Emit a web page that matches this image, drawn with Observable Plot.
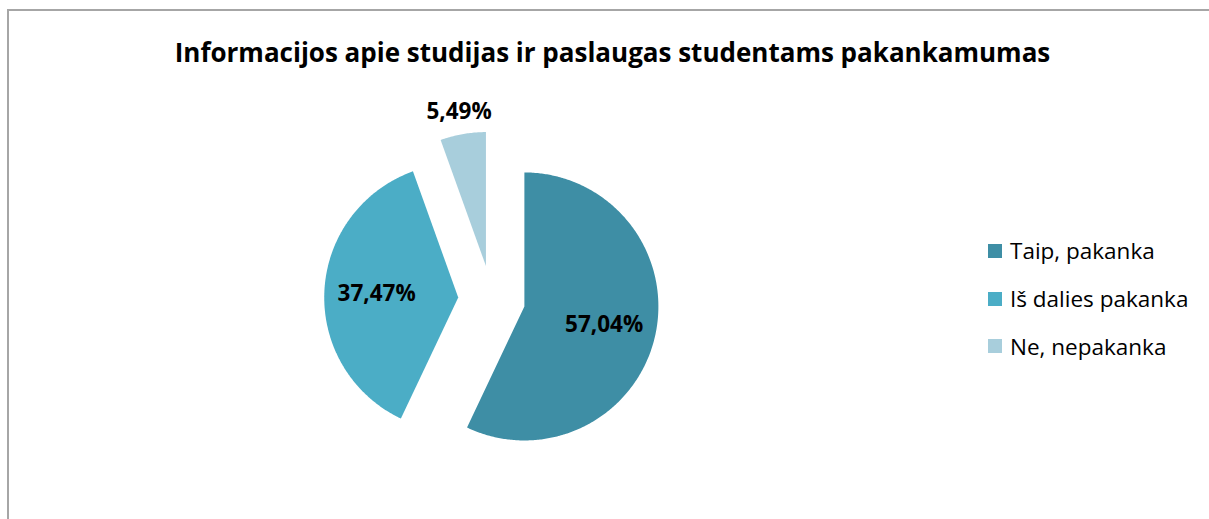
<!DOCTYPE html>
<html><head><meta charset="utf-8">
<script src="https://cdn.jsdelivr.net/npm/d3@7"></script>
<script src="https://cdn.jsdelivr.net/npm/@observablehq/plot@0.6"></script>
<style>
body{margin:0;background:#fff;font-family:"Open Sans",sans-serif;}
#wrap{position:relative;width:1209px;height:519px;overflow:hidden;}
#frame{position:absolute;left:7px;top:9px;width:1220px;height:530px;border-left:2px solid #a6a6a6;border-top:2px solid #a6a6a6;}
#title{position:absolute;left:0;width:1225px;top:34px;text-align:center;font-weight:700;font-size:26px;color:#000;line-height:36px;z-index:2;}
#legend{position:absolute;left:988px;top:227px;z-index:2;}
.item{display:flex;align-items:center;height:47.7px;font-size:22.5px;color:#000;}
.sw{width:14px;height:14px;margin-right:8px;}
#chart{position:absolute;left:0;top:0;}
</style></head>
<body>
<div id="wrap">
  <div id="frame"></div>
  <div id="chart"></div>
  <div id="title"></div>
  <div id="legend"></div>
</div>
<script>
const title = "Informacijos apie studijas ir paslaugas studentams pakankamumas";
const categories = ["Taip, pakanka", "Iš dalies pakanka", "Ne, nepakanka"];
const values = [57.04, 37.47, 5.49];
const colors = ["#3e8ea5", "#4badc6", "#a8cedc"];

// layout
const W = 1209, H = 519, R = 134, cx = 491.2, cy = 298.6, explode = 0.25;

const arcs = d3.pie().sort(null).startAngle(0).endAngle(2 * Math.PI)(values);
const total = d3.sum(values);

const pts = [];
const labels = [];
arcs.forEach((a, i) => {
  const m = (a.startAngle + a.endAngle) / 2;
  const ox = explode * Math.sin(m), oy = explode * Math.cos(m);
  pts.push({name: categories[i], x: ox, y: oy});
  const n = Math.max(2, Math.ceil((a.endAngle - a.startAngle) / 0.01));
  for (let k = 0; k <= n; k++) {
    const t = a.startAngle + (a.endAngle - a.startAngle) * k / n;
    pts.push({name: categories[i], x: ox + Math.sin(t), y: oy + Math.cos(t)});
  }
  const share = values[i] / total;
  const lr = share < 0.1 ? 1.17 : 0.61;
  labels.push({
    x: ox + lr * Math.sin(m),
    y: oy + lr * Math.cos(m),
    text: values[i].toFixed(2).replace(".", ",") + "%"
  });
});

const chart = Plot.plot({
  width: W, height: H, margin: 0,
  style: {fontFamily: "'Open Sans', sans-serif", background: "transparent"},
  x: {domain: [-cx / R, (W - cx) / R], axis: null},
  y: {domain: [-(H - cy) / R, cy / R], axis: null},
  color: {domain: categories, range: colors},
  marks: [
    Plot.line(pts, {x: "x", y: "y", z: "name", fill: "name", stroke: "none", curve: "linear-closed"}),
    Plot.text(labels, {x: "x", y: "y", text: "text", fontSize: 22.5, fontWeight: "bold", fill: "#000"})
  ]
});
document.getElementById("chart").append(chart);

document.getElementById("title").textContent = title;
const leg = document.getElementById("legend");
categories.forEach((c, i) => {
  const it = document.createElement("div"); it.className = "item";
  const sw = document.createElement("span"); sw.className = "sw"; sw.style.background = colors[i];
  const tx = document.createElement("span"); tx.textContent = c;
  it.append(sw, tx); leg.append(it);
});
</script>
</body></html>
